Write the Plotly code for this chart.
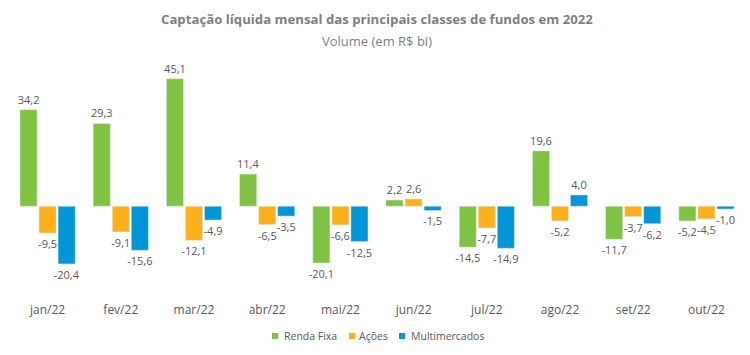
import plotly.graph_objects as go

categories = ["jan/22", "fev/22", "mar/22", "abr/22", "mai/22", "jun/22", "jul/22", "ago/22", "set/22", "out/22"]
renda_fixa = [34.2, 29.3, 45.1, 11.4, -20.1, 2.2, -14.5, 19.6, -11.7, -5.2]
acoes = [-9.5, -9.1, -12.1, -6.5, -6.6, 2.6, -7.7, -5.2, -3.7, -4.5]
multimercados = [-20.4, -15.6, -4.9, -3.5, -12.5, -1.5, -14.9, 4.0, -6.2, -1.0]

series_names = ["Renda Fixa", "Ações", "Multimercados"]
series_values = [renda_fixa, acoes, multimercados]
series_colors = ["#80C241", "#FDB01A", "#0096D8"]

font_family = "Open Sans, Noto Sans, sans-serif"
W, H = 750, 355
L, R, T, B = 11, 7, 65, 64
PW, PH = W - L - R, H - T - B

fig = go.Figure()
for name, vals, color in zip(series_names, series_values, series_colors):
    fig.add_trace(go.Bar(
        x=categories, y=vals, name=name, marker_color=color,
        texttemplate="%{y:.1f}", textposition="outside", cliponaxis=False,
        constraintext="none", showlegend=False, hoverinfo="skip",
        textfont=dict(size=11, color="#595959", family=font_family),
    ))

# custom compact legend (squares + labels)
legend_sq_px = [272, 349, 399]
legend_txt_px = [282, 357, 409]
legend_y_px = 336
shapes = []
annotations = [
    dict(text="<b>Captação líquida mensal das principais classes de fundos em 2022</b>",
         xref="paper", yref="paper", x=0.5, y=1, yshift=46, xanchor="center", yanchor="middle",
         showarrow=False, font=dict(size=13.2, color="#7F7F7F", family=font_family)),
    dict(text="Volume (em R$ bi)",
         xref="paper", yref="paper", x=0.5, y=1, yshift=24, xanchor="center", yanchor="middle",
         showarrow=False, font=dict(size=13, color="#7F7F7F", family=font_family)),
]
ly = (H - B - legend_y_px) / PH
for name, color, sx, tx in zip(series_names, series_colors, legend_sq_px, legend_txt_px):
    shapes.append(dict(type="rect", xref="paper", yref="paper",
                       xsizemode="pixel", ysizemode="pixel",
                       xanchor=(sx - L) / PW, yanchor=ly, x0=0, x1=6, y0=-3, y1=3,
                       fillcolor=color, line=dict(width=0)))
    annotations.append(dict(text=name, xref="paper", yref="paper",
                            x=(tx - L) / PW, y=ly, xanchor="left", yanchor="middle",
                            showarrow=False, font=dict(size=10.5, color="#595959", family=font_family)))

fig.update_layout(
    width=W, height=H,
    separators=",.",
    barmode="group", bargap=0.22, bargroupgap=0.1,
    plot_bgcolor="white", paper_bgcolor="white",
    margin=dict(l=L, r=R, t=T, b=B, autoexpand=False),
    font=dict(family=font_family, color="#595959"),
    annotations=annotations,
    shapes=shapes,
    xaxis=dict(showgrid=False, showline=False, tickfont=dict(size=12, color="#595959"),
               ticks="outside", ticklen=8, tickcolor="rgba(0,0,0,0)", automargin=False),
    yaxis=dict(range=[-30, 50], visible=False, zeroline=False, showgrid=False, automargin=False),
    showlegend=False,
)
fig.write_html("out.html", config={"displayModeBar": False},
               post_script="document.body.style.margin='0';document.body.style.overflow='hidden';")
